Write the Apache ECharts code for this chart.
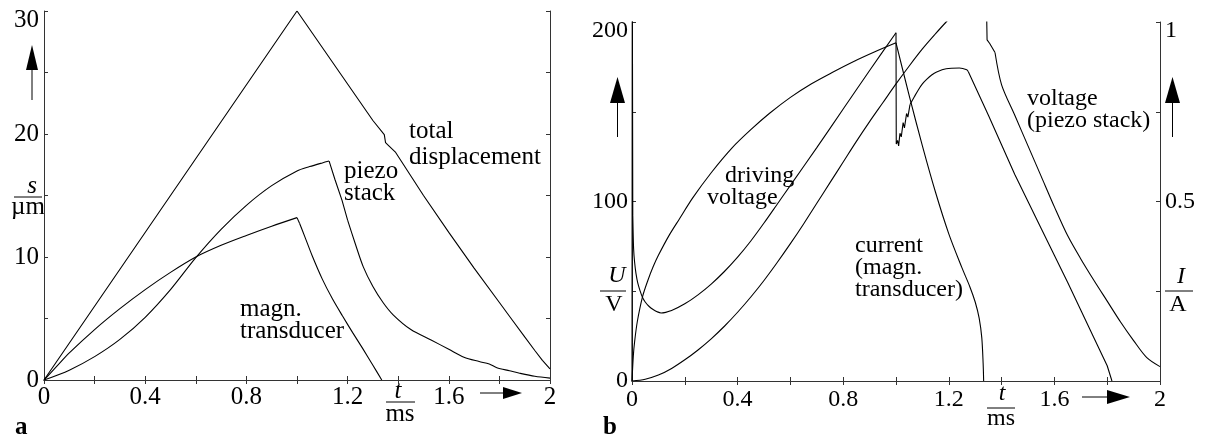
<!DOCTYPE html>
<html>
<head>
<meta charset="utf-8">
<script src="https://cdn.jsdelivr.net/npm/echarts@6/dist/echarts.min.js"></script>
<style>
html,body{margin:0;padding:0;background:#fff;}
#c{width:1206px;height:441px;}
</style>
</head>
<body>
<div id="c"></div>
<script>
// ---------- Panel a: displacement s (µm) vs t (ms) ----------
const aTotalT = [0, 1, 1.3, 1.345, 1.35, 1.36, 1.39, 1.5, 1.6, 1.7, 1.8, 1.85, 1.9, 1.94, 1.97, 2];
const aTotalS = [0, 30, 21.1, 19.95, 19.3, 19.1, 18.5, 15.0, 12.0, 9.1, 6.3, 4.9, 3.5, 2.4, 1.6, 0.9];

const aPiezoT = [0, 0.1, 0.2, 0.3, 0.4, 0.5, 0.6, 0.7, 0.8, 0.9, 1.0, 1.05, 1.1, 1.127, 1.15, 1.178, 1.2, 1.23, 1.262, 1.3, 1.34, 1.38, 1.45, 1.53, 1.6, 1.66, 1.72, 1.76, 1.79, 1.84, 1.88, 1.94, 2.0];
const aPiezoS = [0, 0.8, 1.9, 3.3, 5.1, 7.35, 9.95, 12.25, 14.2, 15.8, 17.0, 17.35, 17.65, 17.8, 16.3, 14.6, 13.0, 11.1, 9.2, 7.6, 6.3, 5.3, 4.1, 3.25, 2.5, 1.85, 1.5, 1.3, 1.0, 0.75, 0.55, 0.3, 0.15];

const aMagnT = [0, 0.05, 0.1, 0.2, 0.3, 0.4, 0.5, 0.6, 0.7, 0.8, 0.9, 1.0, 1.01, 1.03, 1.06, 1.1, 1.14, 1.18, 1.22, 1.26, 1.3, 1.335];
const aMagnS = [0, 1.1, 2.2, 4.1, 5.8, 7.35, 8.75, 10.0, 10.95, 11.75, 12.5, 13.2, 12.75, 11.7, 10.1, 8.2, 6.6, 5.2, 3.85, 2.55, 1.2, 0];

// ---------- Panel b: U (V) and I (A) vs t (ms) ----------
const bDriveT = [0, 0.001, 0.003, 0.006, 0.01, 0.015, 0.022, 0.03, 0.04, 0.05, 0.065, 0.08, 0.095, 0.11, 0.15, 0.2, 0.25, 0.3, 0.35, 0.4, 0.45, 0.5, 0.55, 0.6, 0.7, 0.8, 0.9, 1.0,
  1.001, 1.006, 1.01, 1.015, 1.02, 1.027, 1.032, 1.04, 1.045, 1.053, 1.07, 1.085, 1.1, 1.116, 1.135, 1.154, 1.19, 1.24, 1.268, 1.274, 1.35, 1.45, 1.55, 1.65, 1.75, 1.8, 1.818];
const bDriveU = [0, 240, 92, 74, 66, 60, 54.5, 50.5, 46.5, 44, 41.5, 39.8, 38.6, 37.9, 39.3, 43, 48, 54, 61, 69, 78, 88, 98.5, 109, 130, 151.5, 173, 194,
  132, 134, 131, 138, 136, 144, 141, 149, 147, 154, 158.5, 162.3, 165.5, 168, 170.5, 172.2, 174, 174.4, 173.4, 172.3, 148, 115, 85, 55, 24, 8.5, 0];

const bCurT = [0, 0.005, 0.01, 0.02, 0.04, 0.06, 0.08, 0.1, 0.14, 0.18, 0.23, 0.3, 0.38, 0.45, 0.52, 0.6, 0.68, 0.76, 0.84, 0.92, 1.0,
  1.05, 1.1, 1.15, 1.2, 1.25, 1.28, 1.3, 1.315, 1.325, 1.33, 1.332];
const bCurI = [0, 0.07, 0.11, 0.165, 0.235, 0.28, 0.318, 0.35, 0.405, 0.452, 0.51, 0.58, 0.65, 0.70, 0.745, 0.79, 0.828, 0.86, 0.89, 0.917, 0.942,
  0.795, 0.655, 0.525, 0.41, 0.315, 0.262, 0.22, 0.175, 0.12, 0.05, 0];

const bPiezoT = [0, 0.05, 0.1, 0.15, 0.2, 0.25, 0.3, 0.35, 0.4, 0.45, 0.5, 0.55, 0.6, 0.65, 0.7, 0.75, 0.8, 0.85, 0.9, 0.95, 1.0, 1.05, 1.1, 1.15, 1.19, 1.25, 1.3, 1.342,
  1.345, 1.355, 1.362, 1.375, 1.4, 1.45, 1.5, 1.55, 1.6, 1.65, 1.7, 1.75, 1.8, 1.85, 1.9, 1.95, 2.0];
const bPiezoU = [0, 1, 3.3, 7, 11.8, 17.3, 23.5, 30.5, 38.3, 46.8, 56, 66, 76.5, 87.5, 99, 110.5, 122, 133.5, 144.5, 155, 165.5, 175.5, 185, 193.5, 200, 209, 215, 215,
  190, 188, 187.5, 183, 165, 148, 131, 114, 97, 81, 68, 56, 44.5, 33, 22.5, 13, 8];

// tick label texts
const aYLabels = [0, 10, 20, 30];
const bYLabels = [0, 100, 200];
const bIYLabels = [0.5, 1];

const pairs = (ts, vs) => ts.map((t, i) => [t, vs[i]]);

const FONT = '"Liberation Serif", "Times New Roman", serif';
const AX = '#333';

function xFmt(v) {
  const k = Math.round(v * 10);
  if (k % 4 !== 0) return '';
  if (k === 0) return '0';
  if (k === 20) return '2';
  return (k / 10).toFixed(1);
}

function bottomX(grid, size, margin) {
  return {
    type: 'value', gridIndex: grid, position: 'bottom', min: 0, max: 2, interval: 0.2,
    axisLine: { show: true, lineStyle: { color: AX, width: 1 } },
    axisTick: { show: true, inside: true, length: 4, lineStyle: { color: AX } },
    splitLine: { show: false },
    axisLabel: { show: true, formatter: xFmt, margin: margin, color: '#000', fontFamily: FONT, fontSize: size,
      showMinLabel: true, showMaxLabel: true, hideOverlap: false }
  };
}
function topX(grid) {
  return {
    type: 'value', gridIndex: grid, position: 'top', min: 0, max: 2, interval: 0.2,
    axisLine: { show: true, lineStyle: { color: AX, width: 1 } },
    axisTick: { show: true, inside: true, length: 4, lineStyle: { color: AX } },
    splitLine: { show: false }, axisLabel: { show: false }
  };
}
function yAx(grid, pos, max, interval, labels, size, margin, showLabels) {
  return {
    type: 'value', gridIndex: grid, position: pos, min: 0, max: max, interval: interval,
    axisLine: { show: true, onZero: false, lineStyle: { color: AX, width: 1 } },
    axisTick: { show: true, inside: true, length: 4, lineStyle: { color: AX } },
    splitLine: { show: false },
    axisLabel: {
      show: showLabels, margin: margin, color: '#000', fontFamily: FONT, fontSize: size,
      showMinLabel: true, showMaxLabel: true, hideOverlap: false,
      formatter: function (v) {
        const hit = labels.some(l => Math.abs(l - v) < 1e-6);
        if (!hit) return '';
        if (Math.abs(v - max) < 1e-6) return '{top|' + v + '}';
        return String(v);
      },
      rich: { top: { padding: [18, 0, 0, 0], fontFamily: FONT, fontSize: size, color: '#000' } }
    }
  };
}

// split a curve into pieces (rendering hint: which stretches are drawn smooth)
function pieces(ts, vs, cuts) {
  const all = pairs(ts, vs);
  return cuts.map(c => ({ data: all.filter(p => p[0] >= c[0] - 1e-9 && p[0] <= c[1] + 1e-9), smooth: c[2] }));
}
function sers(ts, vs, cuts, xi, yi) {
  return pieces(ts, vs, cuts).map(pc => ({
    type: 'line', data: pc.data, xAxisIndex: xi, yAxisIndex: yi, showSymbol: false, symbol: 'none',
    smooth: pc.smooth ? 0.3 : false,
    lineStyle: { color: '#000', width: 1.1 }, clip: true, silent: true, animation: false
  }));
}

// ----- annotation helpers -----
function txt(s, x, y, size, opts) {
  opts = opts || {};
  return { type: 'text', x: x, y: y, silent: true,
    style: { text: s, fill: '#000', font: (opts.style || 'normal') + ' ' + (opts.weight || 'normal') + ' ' + size + 'px ' + FONT,
      align: opts.align || 'left', verticalAlign: 'middle', textAlign: opts.align || 'left', textVerticalAlign: 'middle' } };
}
function seg(x1, y1, x2, y2) {
  return { type: 'line', silent: true, shape: { x1: x1, y1: y1, x2: x2, y2: y2 }, style: { stroke: '#000', lineWidth: 1 } };
}
function tri(pts) {
  return { type: 'polygon', silent: true, shape: { points: pts }, style: { fill: '#000' } };
}

const graphics = [
  // panel a
  txt('a', 15, 428, 25, { weight: 'bold' }),
  txt('s', 32, 186, 25, { style: 'italic', align: 'center' }), seg(14, 197, 42, 197), txt('\u00b5m', 28, 207, 25, { align: 'center' }),
  tri([[32, 45], [26, 70], [38, 70]]), seg(32, 70, 32, 100),
  txt('t', 398, 391, 25, { style: 'italic', align: 'center' }), seg(386, 402, 415, 402), txt('ms', 400, 414, 25, { align: 'center' }),
  seg(480, 393, 504, 393), tri([[522, 393], [503, 387], [503, 399]]),
  txt('total', 409, 131, 25), txt('displacement', 409, 157, 25),
  txt('piezo', 344, 171, 25), txt('stack', 344, 193, 25),
  txt('magn.', 240, 309, 25), txt('transducer', 240, 331, 25),
  // panel b
  txt('b', 603, 428, 25, { weight: 'bold' }),
  tri([[617.5, 77], [610, 103], [625, 103]]), seg(617.5, 103, 617.5, 137),
  txt('U', 617, 276, 24, { style: 'italic', align: 'center' }), seg(600, 291, 626, 291), txt('V', 614, 305, 24, { align: 'center' }),
  tri([[1172.5, 77], [1165, 103], [1180, 103]]), seg(1172.5, 103, 1172.5, 137),
  txt('I', 1181, 277, 24, { style: 'italic', align: 'center' }), seg(1165, 291, 1193, 291), txt('A', 1178, 305, 24, { align: 'center' }),
  txt('t', 1002, 394, 24, { style: 'italic', align: 'center' }), seg(987, 408, 1015, 408), txt('ms', 1001, 419, 24, { align: 'center' }),
  seg(1082, 397, 1108, 397), tri([[1130, 397], [1107, 390], [1107, 404]]),
  txt('driving', 725, 176, 24), txt('voltage', 707, 198, 24),
  txt('current', 855, 246, 24), txt('(magn.', 855, 268, 24), txt('transducer)', 855, 290, 24),
  txt('voltage', 1027, 99, 24), txt('(piezo stack)', 1027, 121, 24)
];

const option = {
  animation: false,
  backgroundColor: '#fff',
  grid: [
    { left: 44, top: 11, width: 506, height: 369 },
    { left: 632, top: 22, width: 528, height: 359 }
  ],
  xAxis: [bottomX(0, 25, 5), topX(0), bottomX(1, 24, 7), topX(1)],
  yAxis: [
    yAx(0, 'left', 30, 5, aYLabels, 25, 5, true),
    yAx(0, 'right', 30, 5, [], 25, 5, false),
    yAx(1, 'left', 200, 50, bYLabels, 24, 4, true),
    yAx(1, 'right', 1, 0.25, bIYLabels, 24, 5, true)
  ],
  series: [].concat(
    sers(aTotalT, aTotalS, [[0, 2, false]], 0, 0),
    sers(aPiezoT, aPiezoS, [[0, 1.127, true], [1.127, 1.2, false], [1.2, 2, true]], 0, 0),
    sers(aMagnT, aMagnS, [[0, 1.0, true], [1.0, 1.01, false], [1.01, 1.335, true]], 0, 0),
    sers(bDriveT, bDriveU, [[0, 0.003, false], [0.003, 1.0, true], [1.0, 1.053, false], [1.053, 1.274, true], [1.274, 1.818, false]], 2, 2),
    sers(bCurT, bCurI, [[0, 1.0, true], [1.0, 1.332, true]], 2, 3),
    sers(bPiezoT, bPiezoU, [[0, 1.342, true], [1.342, 1.375, false], [1.375, 2, true]], 2, 2)
  ),
  graphic: graphics
};

const chart = echarts.init(document.getElementById('c'), null, { renderer: 'canvas' });
chart.setOption(option);
</script>
</body>
</html>
